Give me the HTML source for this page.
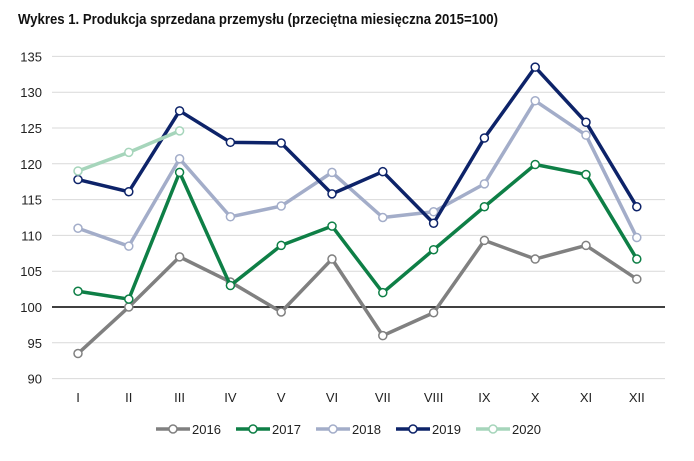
<!DOCTYPE html>
<html><head><meta charset="utf-8"><style>
body{margin:0;background:#fff;font-family:"Liberation Sans",sans-serif}
svg text{font-family:"Liberation Sans",sans-serif}
</style></head><body>
<svg id="c" width="694" height="456">
<text x="18" y="24" font-size="15" font-weight="bold" fill="#111" textLength="480" lengthAdjust="spacingAndGlyphs">Wykres 1. Produkcja sprzedana przemysłu (przeciętna miesięczna 2015=100)</text>
</svg>
<script>
const categories=["I","II","III","IV","V","VI","VII","VIII","IX","X","XI","XII"];
const yTicks=[90,95,100,105,110,115,120,125,130,135];
const s2016=[93.5,100,107,103.5,99.3,106.7,96,99.2,109.3,106.7,108.6,103.9];
const s2017=[102.2,101.1,118.8,103,108.6,111.3,102,108,114,119.9,118.5,106.7];
const s2018=[111,108.5,120.7,112.6,114.1,118.8,112.5,113.3,117.2,128.8,124,109.7];
const s2019=[117.8,116.1,127.4,123,122.9,115.8,118.9,111.7,123.6,133.5,125.8,114];
const s2020=[119,121.6,124.6];
const seriesNames=["2016","2017","2018","2019","2020"];
const seriesData=[s2016,s2017,s2018,s2019,s2020];
const colors=["#808080","#0e7f46","#a3adc9","#0d2369","#a6d5bb"];
const svg=document.getElementById('c');const NS="http://www.w3.org/2000/svg";
function yS(v){return 307-(v-100)*7.16;}
function xS(i){return 78+i*50.8;}
function mk(t,a){const e=document.createElementNS(NS,t);for(const k in a)e.setAttribute(k,a[k]);svg.appendChild(e);return e;}
yTicks.forEach(v=>{
 const l=mk('line',{x1:52,x2:665,y1:yS(v),y2:yS(v),stroke:v===100?'#000':'#d9d9d9','stroke-width':v===100?1.5:1});
 
 
 const t=mk('text',{x:42,y:yS(v)+5,'font-size':13,'text-anchor':'end',fill:'#222'});t.textContent=v;
 
 
});
categories.forEach((c,i)=>{
 const t=mk('text',{x:xS(i),y:402,'font-size':13,'text-anchor':'middle',fill:'#222'});t.textContent=c;
 
 
});
seriesData.forEach((d,si)=>{
 const p=mk('polyline',{points:d.map((v,i)=>xS(i)+','+yS(v)).join(' '),fill:'none',stroke:colors[si],'stroke-width':3.5,'stroke-linejoin':'round'});
 
 
 d.forEach((v,i)=>{
  const c=mk('circle',{cx:xS(i),cy:yS(v),r:4,fill:'#fff',stroke:colors[si],'stroke-width':1.5});
  
  
 });
});
seriesNames.forEach((n,si)=>{
 const x0=156+si*80;
 const l=mk('line',{x1:x0,x2:x0+34,y1:429,y2:429,stroke:colors[si],'stroke-width':3.5});
 
 
 const c=mk('circle',{cx:x0+17,cy:429,r:4,fill:'#fff',stroke:colors[si],'stroke-width':1.5});
 
 
 const t=mk('text',{x:x0+36,y:434,'font-size':13,fill:'#222'});t.textContent=n;
 
 
});
</script>
</body></html>
